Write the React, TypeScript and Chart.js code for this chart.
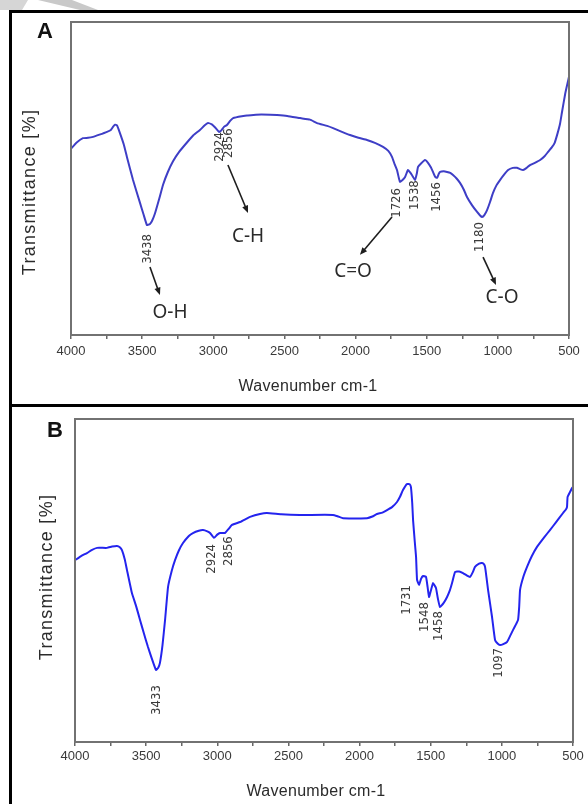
import React, { useEffect, useRef } from "react";
import { Chart, registerables } from "chart.js";

Chart.register(...registerables);

// ---------- data ----------
const X_TITLE = "Wavenumber cm-1";
const Y_TITLE = "Transmittance [%]";
const MAJOR_TICKS = [4000, 3500, 3000, 2500, 2000, 1500, 1000, 500];

const A_WAVENUMBER = [
  4000, 3960, 3916, 3880, 3845, 3800, 3747, 3720, 3705, 3690, 3677, 3656, 3630, 3607, 3564, 3515, 3490,
  3466, 3445, 3430, 3410, 3380, 3353, 3320, 3283, 3240, 3185, 3140, 3094, 3060, 3037, 3010, 2985, 2960,
  2945, 2925, 2904, 2880, 2861, 2800, 2763, 2700, 2600, 2552, 2480, 2390, 2320, 2271, 2200, 2158, 2100,
  2039, 1980, 1920, 1860, 1807, 1770, 1744, 1725, 1709, 1695, 1688, 1670, 1652, 1632, 1618, 1604, 1582,
  1570, 1561, 1540, 1512, 1491, 1470, 1456, 1440, 1427, 1415, 1406, 1380, 1357, 1335, 1315, 1290, 1266,
  1240, 1217, 1182, 1146, 1125, 1111, 1095, 1076, 1055, 1034, 1010, 985, 955, 928, 895, 866, 845, 823,
  800, 774, 740, 703, 670, 647, 620, 600, 580, 563, 550, 527, 510, 500,
];
const A_TRANSMITTANCE = [
  59.5, 61.5, 62.9, 63.0, 63.3, 64.0, 64.9, 65.5, 66.5, 67.2, 67.0, 64.5, 61.0, 56.9, 49.5, 42.2, 38.5,
  35.1, 35.5, 36.5, 38.8, 43.5, 48.0, 52.0, 55.5, 58.5, 61.5, 63.8, 65.5, 67.0, 67.7, 67.3, 66.2, 64.9,
  65.3, 66.5, 67.1, 68.5, 69.3, 69.9, 70.1, 70.4, 70.4, 70.3, 70.0, 69.3, 68.8, 67.7, 66.8, 66.1, 65.0,
  63.9, 63.0, 62.3, 61.3, 60.1, 58.8, 56.9, 54.5, 52.7, 50.0, 48.9, 49.5, 50.5, 52.7, 52.0, 51.1, 49.5,
  51.5, 53.7, 54.8, 55.9, 55.0, 53.5, 52.1, 50.5, 50.2, 51.5, 52.1, 52.3, 52.1, 51.8, 51.1, 50.0, 48.6,
  46.5, 44.1, 41.5, 39.3, 38.2, 37.7, 38.3, 39.9, 42.5, 45.4, 47.8, 49.5, 51.3, 52.7, 53.4, 53.4, 53.0, 52.7,
  53.3, 54.3, 55.0, 55.9, 57.2, 58.5, 60.0, 61.5, 64.5, 67.5, 71.0, 77.0, 80.5, 82.5,
];

const B_WAVENUMBER = [
  4000, 3960, 3916, 3880, 3845, 3775, 3740, 3705, 3685, 3670, 3650, 3635, 3600, 3570, 3543, 3515, 3487,
  3460, 3431, 3415, 3403, 3385, 3367, 3346, 3320, 3297, 3270, 3241, 3200, 3171, 3130, 3100, 3070, 3051,
  3023, 3000, 2981, 2946, 2920, 2897, 2840, 2800, 2770, 2700, 2651, 2550, 2420, 2187, 2150, 2116, 1948,
  1910, 1878, 1840, 1807, 1770, 1737, 1715, 1695, 1667, 1648, 1639, 1630, 1624, 1612, 1603, 1596, 1582,
  1568, 1554, 1533, 1522, 1512, 1498, 1484, 1463, 1450, 1435, 1410, 1385, 1365, 1350, 1329, 1300, 1273,
  1245, 1224, 1205, 1189, 1160, 1139, 1125, 1118, 1108, 1097, 1069, 1048, 1030, 1013, 990, 963, 940, 921,
  900, 886, 878, 872, 850, 823, 790, 753, 700, 662, 620, 570, 550, 542, 538, 520, 507, 500,
];
const B_TRANSMITTANCE = [
  56.3, 57.5, 58.5, 59.5, 60.1, 60.1, 60.5, 60.7, 60.3, 59.4, 56.5, 53.3, 46.1, 42.0, 37.8, 33.5, 29.4,
  25.8, 22.3, 23.0, 24.5, 30.0, 37.8, 48.0, 53.0, 56.3, 59.3, 61.6, 63.8, 64.7, 65.4, 65.6, 65.2, 64.7,
  63.2, 64.2, 64.7, 64.7, 66.0, 67.2, 68.1, 69.0, 69.7, 70.6, 70.9, 70.5, 70.3, 70.3, 69.8, 69.3, 69.3,
  69.8, 70.6, 71.0, 71.8, 72.8, 74.3, 76.0, 78.0, 79.9, 79.8, 78.9, 74.0, 68.7, 62.0, 57.3, 50.2, 48.6,
  50.5, 51.4, 51.1, 48.0, 44.9, 47.0, 49.2, 47.7, 44.5, 41.8, 43.0, 44.9, 47.0, 49.2, 52.6, 52.8, 52.3,
  51.5, 51.1, 52.5, 54.2, 55.2, 55.4, 55.0, 54.2, 51.0, 47.1, 38.7, 31.6, 30.5, 30.0, 30.3, 31.0, 33.0, 34.7,
  36.5, 37.8, 42.0, 47.1, 51.0, 54.2, 57.5, 60.4, 63.5, 65.6, 68.0, 70.9, 72.0, 72.8, 75.9, 77.5, 78.6, 79.0,
];

// peak labels (wavenumber position, transmittance position)
const A_PEAK_TEXT = ["3438", "2924", "2856", "1726", "1538", "1456", "1180"];
const A_PEAK_X = [3459, 2953, 2890, 1709, 1582, 1428, 1126];
const A_PEAK_Y = [27.5, 60.1, 61.3, 42.2, 44.7, 44.1, 31.3];

const A_GROUP_TEXT = ["O-H", "C-H", "C=O", "C-O"];
const A_GROUP_X = [3304, 2756, 2018, 971];
const A_GROUP_Y = [7.3, 31.3, 20.4, 12.1];
const A_ARROW_X0 = [3445, 2897, 1744, 1104];
const A_ARROW_Y0 = [21.7, 54.3, 37.7, 24.9];
const A_ARROW_X1 = [3375, 2756, 1969, 1013];
const A_ARROW_Y1 = [12.8, 39.0, 25.6, 16.0];

const B_PEAK_TEXT = ["3433", "2924", "2856", "1731", "1548", "1458", "1097"];
const B_PEAK_X = [3424, 3037, 2918, 1667, 1540, 1442, 1020];
const B_PEAK_Y = [13.0, 56.7, 59.1, 44.0, 38.7, 35.9, 24.5];

// ---------- plugin ----------
const SANS = '"Liberation Sans", Arial, Helvetica, sans-serif';
const NARROW = '"DejaVu Sans Condensed", "Liberation Sans Narrow", "Liberation Sans", sans-serif';

const annotatePlugin = {
  id: "annotate",
  afterDraw(chart: any, _args: any, opts: any) {
    const { ctx, chartArea: ca } = chart;
    const xs = chart.scales.x;
    const ys = chart.scales.y;
    ctx.save();

    // plot frame
    ctx.strokeStyle = "#727272";
    ctx.lineWidth = 2;
    ctx.strokeRect(ca.left, ca.top, ca.right - ca.left, ca.bottom - ca.top);

    // panel letter
    ctx.fillStyle = "#111";
    ctx.font = "bold 22px " + SANS;
    ctx.textAlign = "center";
    ctx.textBaseline = "middle";
    ctx.fillText(opts.letter, opts.letterX, opts.letterY);

    // axis titles
    ctx.fillStyle = "#2b2b2b";
    ctx.font = "16px " + SANS;
    (ctx as any).letterSpacing = "0.3px";
    ctx.fillText(X_TITLE, opts.xTitleX, opts.xTitleY);
    ctx.save();
    ctx.translate(opts.yTitleX, opts.yTitleY);
    ctx.rotate(-Math.PI / 2);
    ctx.font = "18px " + SANS;
    (ctx as any).letterSpacing = "1.3px";
    ctx.fillText(Y_TITLE, 0, 0);
    ctx.restore();
    (ctx as any).letterSpacing = "0px";

    // peak labels
    ctx.fillStyle = "#3a3a3a";
    ctx.font = "13px " + NARROW;
    const pt: string[] = opts.peakText;
    pt.forEach((t, i) => {
      const px = xs.getPixelForValue(opts.peakX[i]);
      const py = ys.getPixelForValue(opts.peakY[i]);
      ctx.save();
      ctx.translate(px, py);
      ctx.rotate(-Math.PI / 2);
      ctx.fillText(t, 0, 0);
      ctx.restore();
    });

    // arrows
    const gx: number[] = opts.arrowX0 || [];
    gx.forEach((_v, i) => {
      const x0 = xs.getPixelForValue(opts.arrowX0[i]);
      const y0 = ys.getPixelForValue(opts.arrowY0[i]);
      const x1 = xs.getPixelForValue(opts.arrowX1[i]);
      const y1 = ys.getPixelForValue(opts.arrowY1[i]);
      const ang = Math.atan2(y1 - y0, x1 - x0);
      const head = 8;
      ctx.strokeStyle = "#1e1e1e";
      ctx.fillStyle = "#1e1e1e";
      ctx.lineWidth = 1.6;
      ctx.beginPath();
      ctx.moveTo(x0, y0);
      ctx.lineTo(x1 - Math.cos(ang) * head * 0.8, y1 - Math.sin(ang) * head * 0.8);
      ctx.stroke();
      ctx.beginPath();
      ctx.moveTo(x1, y1);
      ctx.lineTo(x1 - head * Math.cos(ang - 0.4), y1 - head * Math.sin(ang - 0.4));
      ctx.lineTo(x1 - head * Math.cos(ang + 0.4), y1 - head * Math.sin(ang + 0.4));
      ctx.closePath();
      ctx.fill();
    });

    // functional group labels
    const gt: string[] = opts.groupText || [];
    ctx.fillStyle = "#2a2a2a";
    ctx.font = '19px "Noto Sans", "Open Sans", sans-serif';
    gt.forEach((t, i) => {
      ctx.fillText(t, xs.getPixelForValue(opts.groupX[i]), ys.getPixelForValue(opts.groupY[i]));
    });

    ctx.restore();
  },
};

function makeConfig(
  wn: number[],
  tr: number[],
  color: string,
  pad: { left: number; top: number; right: number },
  axisHeight: number,
  tickPad: number,
  ann: any
): any {
  return {
    type: "line",
    data: {
      datasets: [
        {
          data: wn.map((w, i) => ({ x: w, y: tr[i] })),
          borderColor: color,
          borderWidth: 2,
          pointRadius: 0,
          tension: 0.12,
          fill: false,
        },
      ],
    },
    options: {
      responsive: false,
      animation: false,
      devicePixelRatio: 1,
      layout: { padding: { left: pad.left, top: pad.top, right: pad.right, bottom: 0 } },
      plugins: {
        legend: { display: false },
        tooltip: { enabled: false },
        annotate: ann,
      },
      scales: {
        x: {
          type: "linear",
          reverse: true,
          min: 500,
          max: 4000,
          afterFit: (s: any) => {
            s.height = axisHeight;
          },
          border: { display: false },
          grid: {
            drawOnChartArea: false,
            drawTicks: true,
            tickLength: 4,
            color: "#666",
            lineWidth: 1.5,
          },
          ticks: {
            stepSize: 250,
            autoSkip: false,
            maxRotation: 0,
            padding: tickPad,
            color: "#3a3a3a",
            font: { size: 13, family: SANS },
            callback: (v: number) => (MAJOR_TICKS.includes(v) ? String(v) : ""),
          },
        },
        y: { display: false, min: 0, max: 100 },
      },
    },
    plugins: [annotatePlugin],
  };
}

export default function App() {
  const refA = useRef<HTMLCanvasElement>(null);
  const refB = useRef<HTMLCanvasElement>(null);

  useEffect(() => {
    const chartA = new Chart(
      refA.current as HTMLCanvasElement,
      makeConfig(A_WAVENUMBER, A_TRANSMITTANCE, "#3e3ec6", { left: 71, top: 22, right: 19 }, 71, 5, {
        letter: "A",
        letterX: 45,
        letterY: 32,
        xTitleX: 308,
        xTitleY: 387,
        yTitleX: 30,
        yTitleY: 192,
        peakText: A_PEAK_TEXT,
        peakX: A_PEAK_X,
        peakY: A_PEAK_Y,
        groupText: A_GROUP_TEXT,
        groupX: A_GROUP_X,
        groupY: A_GROUP_Y,
        arrowX0: A_ARROW_X0,
        arrowY0: A_ARROW_Y0,
        arrowX1: A_ARROW_X1,
        arrowY1: A_ARROW_Y1,
      })
    );
    const chartB = new Chart(
      refB.current as HTMLCanvasElement,
      makeConfig(B_WAVENUMBER, B_TRANSMITTANCE, "#2424ee", { left: 75, top: 13, right: 15 }, 62, 3, {
        letter: "B",
        letterX: 55,
        letterY: 25,
        xTitleX: 316,
        xTitleY: 386,
        yTitleX: 47,
        yTitleY: 171,
        peakText: B_PEAK_TEXT,
        peakX: B_PEAK_X,
        peakY: B_PEAK_Y,
      })
    );
    return () => {
      chartA.destroy();
      chartB.destroy();
    };
  }, []);

  return (
    <div
      style={{
        position: "absolute",
        left: 0,
        top: 0,
        width: 588,
        height: 804,
        overflow: "hidden",
        background: "#fff",
      }}
    >
      <div
        style={{
          position: "absolute",
          left: 0,
          top: 0,
          width: 30,
          height: 10,
          background: "#d6d6d6",
          clipPath: "polygon(0 0, 28px 0, 22px 10px, 0 10px)",
        }}
      />
      <div
        style={{
          position: "absolute",
          left: 36,
          top: 0,
          width: 64,
          height: 10,
          background: "#c9c9c9",
          clipPath: "polygon(2px 0, 36px 0, 62px 10px, 44px 10px)",
        }}
      />
      <div style={{ position: "absolute", left: 9, top: 10, width: 579, height: 3, background: "#000" }} />
      <div style={{ position: "absolute", left: 9, top: 10, width: 3, height: 794, background: "#000" }} />
      <div style={{ position: "absolute", left: 9, top: 404, width: 579, height: 3, background: "#000" }} />
      <canvas
        ref={refA}
        width={588}
        height={406}
        style={{ position: "absolute", left: 0, top: 0, width: 588, height: 406, display: "block" }}
      />
      <canvas
        ref={refB}
        width={588}
        height={398}
        style={{ position: "absolute", left: 0, top: 406, width: 588, height: 398, display: "block" }}
      />
    </div>
  );
}
